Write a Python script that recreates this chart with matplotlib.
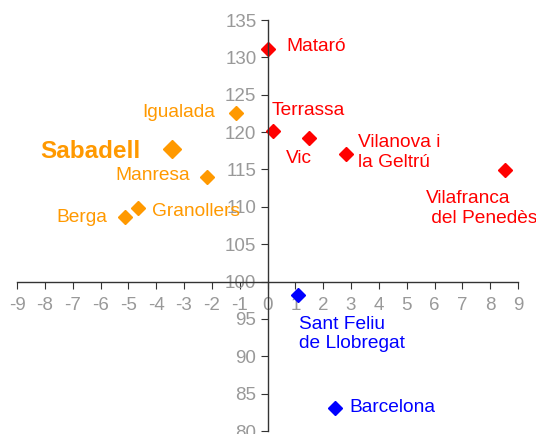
import matplotlib
matplotlib.use('Agg')
import matplotlib.pyplot as plt

plt.rcParams['font.family'] = ['Liberation Sans', 'DejaVu Sans']
plt.rcParams['axes.unicode_minus'] = False

# comarques: x, y
names = ['Mataró', 'Terrassa', 'Vic', 'Vilanova i\nla Geltrú', 'Vilafranca\n del Penedès',
         'Igualada', 'Sabadell', 'Manresa', 'Granollers', 'Berga',
         'Sant Feliu\nde Llobregat', 'Barcelona']
x_vals = [0.02, 0.2, 1.5, 2.82, 8.54, -1.13, -3.43, -2.18, -4.66, -5.13, 1.1, 2.43]
y_vals = [131.1, 120.1, 119.2, 117.1, 114.9, 122.55, 117.7, 114.0, 109.8, 108.6, 98.2, 83.1]
groups = ['red', 'red', 'red', 'red', 'red', 'orange', 'orange', 'orange', 'orange', 'orange',
          'blue', 'blue']

x_ticks = list(range(-9, 10))
y_ticks = list(range(80, 136, 5))

colors = {'red': '#FF0000', 'orange': '#FF9900', 'blue': '#0000FF'}

# label offsets in pixels and alignment
label_layout = {
    'Mataró': (18, 3, 'left', 'center'),
    'Terrassa': (-1, 21, 'left', 'center'),
    'Vic': (-23, -20, 'left', 'center'),
    'Vilanova i\nla Geltrú': (12, 1, 'left', 'center'),
    'Vilafranca\n del Penedès': (-79, -38, 'left', 'center'),
    'Igualada': (-21, 1, 'right', 'center'),
    'Sabadell': (-32, -2, 'right', 'center'),
    'Manresa': (-17, 1, 'right', 'center'),
    'Granollers': (14, -3, 'left', 'center'),
    'Berga': (-17, 0, 'right', 'center'),
    'Sant Feliu\nde Llobregat': (1, -39, 'left', 'center'),
    'Barcelona': (14, 0, 'left', 'center'),
}

fig = plt.figure(figsize=(5.36, 4.34), dpi=100)
ax = fig.add_axes([17/536, 1-431/434, (518-17)/536, (431-20)/434])

for n, x, y, g in zip(names, x_vals, y_vals, groups):
    big = n == 'Sabadell'
    ax.plot(x, y, marker='D', color=colors[g], markersize=9.5 if big else 7,
            linestyle='none', clip_on=False)
    dx, dy, ha, va = label_layout[n]
    ax.annotate(n, (x, y), xytext=(dx, dy), textcoords='offset pixels',
                ha=ha, va=va, color=colors[g],
                fontsize=17.5 if big else 13.8,
                fontweight='bold' if big else 'normal',
                linespacing=1.2)

ax.set_xlim(-9, 9)
ax.set_ylim(80, 135)
ax.set_xticks(x_ticks)
ax.set_yticks(y_ticks)

ax.spines['left'].set_position(('data', 0))
ax.spines['bottom'].set_position(('data', 100))
ax.spines['right'].set_visible(False)
ax.spines['top'].set_visible(False)
for s in ('left', 'bottom'):
    ax.spines[s].set_color('#333333')
    ax.spines[s].set_linewidth(1.0)

ax.tick_params(axis='x', direction='out', length=5, color='#333333',
               labelcolor='#999999', labelsize=13.5, pad=6)
ax.tick_params(axis='y', direction='out', length=5, color='#333333',
               labelcolor='#999999', labelsize=13.5, pad=3)
ax.patch.set_visible(False)

fig.savefig('out.png', dpi=100)
